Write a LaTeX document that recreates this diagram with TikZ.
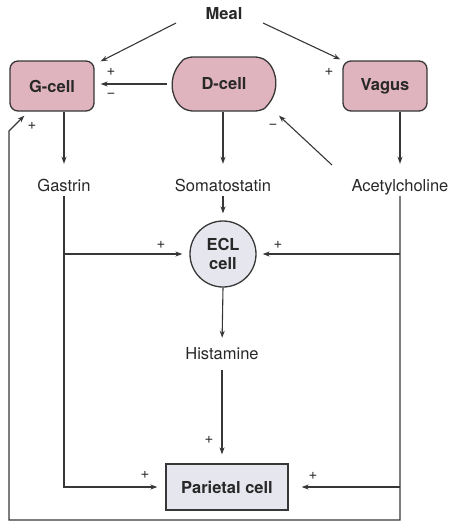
\documentclass[tikz,border=0pt]{standalone}
\usepackage{fontspec}
\setmainfont{TeX Gyre Heros}
\usetikzlibrary{calc}
\usetikzlibrary{positioning}
\usetikzlibrary{arrows.meta}
\usetikzlibrary{shapes.misc}
\definecolor{custom-pink}{RGB}{224, 180, 190}
\definecolor{custom-grey}{RGB}{230, 230, 238}
\definecolor{custom-line}{RGB}{55, 55, 55}
\definecolor{custom-text}{RGB}{40, 40, 40}

\begin{document}
\begin{tikzpicture}[x=1pt, y=-1pt,
    every node/.style={font=\fontsize{16.5}{18}\selectfont, text=custom-text},
    txt/.style={inner sep=1pt, text height=12pt, text depth=4pt},
    cell/.style={draw=custom-line, line width=1.3pt, fill=custom-pink,
        rounded corners=8pt, minimum width=84pt, minimum height=50pt,
        font=\fontsize{16.5}{18}\selectfont\bfseries},
    ecl-cell/.style={circle, draw=custom-line, line width=1.3pt, fill=custom-grey,
        minimum size=66pt, inner sep=0pt, align=center,
        font=\fontsize{16.5}{19}\selectfont\bfseries},
    target/.style={draw=custom-line, line width=1.3pt, fill=custom-grey,
        minimum width=122pt, minimum height=46pt,
        font=\fontsize{16.5}{18}\selectfont\bfseries},
    arr/.style={draw=custom-line, line width=1.1pt, -{Stealth[length=7pt, width=5pt]}},
    sign/.style={font=\fontsize{15}{16}\selectfont, inner sep=0pt}
  ]
  \useasboundingbox (0,0) rectangle (448,523);

  % cells
  \node[font=\fontsize{16.5}{18}\selectfont\bfseries] (meal) at (224,14) {Meal};
  \node[cell] (gcell) at (52,86) {G-cell};
  \node[cell, shape=rounded rectangle, rounded rectangle arc length=120,
        rounded corners=5pt, minimum width=110pt, minimum height=54pt] (dcell) at (224,84) {D-cell};
  \node[cell] (vagus) at (385,86) {Vagus};

  % messengers
  \node[txt] (gastrin) at (64,187) {Gastrin};
  \node[txt] (somato) at (223,187) {Somatostatin};
  \node[txt] (acetyl) at (400,187) {Acetylcholine};
  \node[ecl-cell] (ecl) at (223,254) {ECL\\cell};
  \node[txt] (hista) at (222,355) {Histamine};
  \node[target] (parietal) at (227,487) {Parietal cell};

  \coordinate (meal-l) at (176,23);
  \coordinate (meal-r) at (263,23);
  \coordinate (inhib) at (332,165);
  \coordinate (loop-br) at (400,520);
  \coordinate (loop-bl) at (9,520);
  \coordinate (loop-tl) at (9,131);

  % meal
  \draw[arr] (meal-l) -- ($(gcell.north east)+(6,1)$);
  \draw[arr] (meal-r) -- ($(vagus.north west)+(-2,-1)$);

  % top row
  \draw[arr, shorten <=5pt, shorten >=6pt] (dcell.west) -- (dcell.west -| gcell.east);
  \draw[arr, shorten >=14pt] (gcell.south -| gastrin) -- (gastrin.north);
  \draw[arr, shorten >=14pt] (dcell.south -| somato) -- (somato.north);
  \draw[arr, shorten >=14pt] (vagus.south -| acetyl) -- (acetyl.north);
  \draw[arr] (inhib) -- ($(dcell.south)+(55,4)$);

  % ECL cell
  \draw[arr, shorten >=7pt] (somato.south) -- (ecl.north);
  \draw[arr, shorten >=7pt] (gastrin |- ecl) -- (ecl.west);
  \draw[arr, shorten >=6pt] (acetyl |- ecl) -- (ecl.east);
  \draw[arr, shorten >=8pt] (ecl.south) -- (hista.north);

  % parietal cell
  \draw[arr, shorten <=6pt, shorten >=9pt] (hista.south) -- (hista.south |- parietal.north);
  \draw[arr, shorten >=8pt] (gastrin.south) |- (parietal.west);
  \draw[arr, shorten >=13pt] (acetyl |- parietal.east) -- (parietal.east);

  % vagal loop back to the G-cell
  \draw[arr] (acetyl.south) -- (loop-br) -- (loop-bl) -- (loop-tl)
    -- ($(gcell.south west)+(15,4)$);

  % signs
  \node[sign] (s-gd-plus) at (111,72) {+};
  \node[sign] (s-gd-minus) at (111,95) {−};
  \node[sign] (s-vagus) at (329,72) {+};
  \node[sign] (s-gloop) at (32,126) {+};
  \node[sign] (s-dinhib) at (273,126) {−};
  \node[sign] (s-ecl-l) at (161,245) {+};
  \node[sign] (s-ecl-r) at (278,245) {+};
  \node[sign] (s-hista) at (209,440) {+};
  \node[sign] (s-par-l) at (145,475) {+};
  \node[sign] (s-par-r) at (313,476) {+};
\end{tikzpicture}
\end{document}
